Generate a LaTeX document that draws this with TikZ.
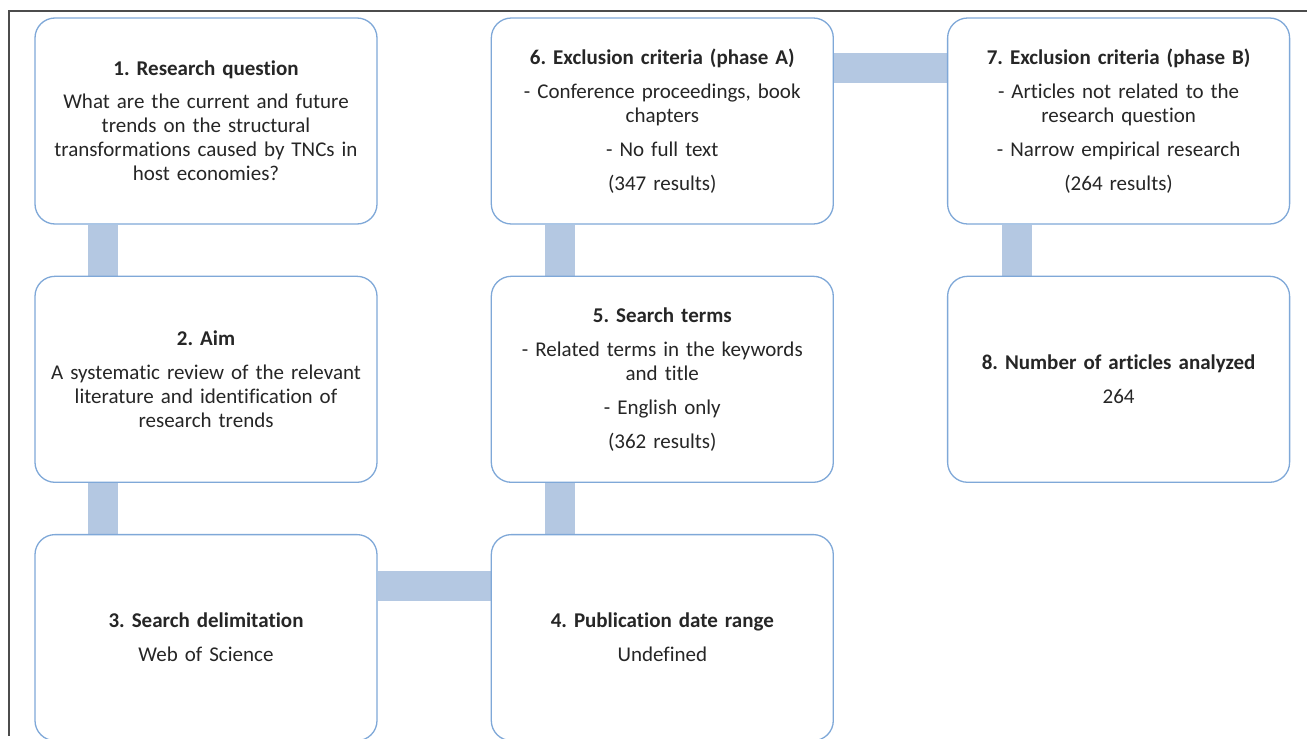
\documentclass[tikz,border=0pt]{standalone}
\usepackage{fontspec}
\setmainfont[Ligatures=NoCommon]{Carlito}
\frenchspacing
\usetikzlibrary{positioning,backgrounds}

\definecolor{boxline}{HTML}{7FA8D8}
\definecolor{barfill}{HTML}{B4C8E2}
\definecolor{ink}{HTML}{262626}

\tikzset{
    stage/.style={draw=boxline, line width=1.3pt, rounded corners=20pt, fill=white,
        minimum width=342pt, minimum height=206pt, text width=336pt, align=center,
        inner sep=0pt, text=ink, font=\fontsize{21}{24}\selectfont},
    link/.style={barfill, line width=30pt},
    frame/.style={black!70, line width=1.3pt}
}

\begin{document}
\begin{tikzpicture}[x=1pt, y=1pt]
    \useasboundingbox (0,0) rectangle (1307,-739);
    \draw[frame] (1307,-11) -- (9,-11) -- (9,-736);

    \node[stage] (rq) at (206,-121) {\textbf{1. Research question}\\[9pt]
        What are the current and future\\ trends on the structural\\
        transformations caused by TNCs in\\ host economies?};
    \node[stage, below=51pt of rq] (aim) {\textbf{2. Aim}\\[10pt]
        A systematic review of the relevant\\ literature and identification of\\ research trends};
    \node[stage, below=51pt of aim] (delim) {\textbf{3. Search delimitation}\\[10pt] Web of Science};
    \node[stage, right=113pt of delim] (dates) {\textbf{4. Publication date range}\\[10pt] Undefined};
    \node[stage, above=51pt of dates] (terms) {\textbf{5. Search terms}\\[10pt]
        - Related terms in the keywords\\ and title\\[10pt] - English only\\[10pt] (362 results)};
    \node[stage, above=51pt of terms] (exA) {\textbf{6. Exclusion criteria (phase A)}\\[10pt]
        - Conference proceedings, book\\ chapters\\[10pt] - No full text\\[10pt] (347 results)};
    \node[stage, right=113pt of exA] (exB) {\textbf{7. Exclusion criteria (phase B)}\\[10pt]
        - Articles not related to the\\ research question\\[10pt] - Narrow empirical research\\[10pt] (264 results)};
    \node[stage, below=51pt of exB] (count) {\textbf{8. Number of articles analyzed}\\[10pt] 264};

    \begin{scope}[on background layer]
        \draw[link] ([xshift=-103pt]rq.south) -- ([xshift=-103pt]aim.north);
        \draw[link] ([xshift=-103pt]aim.south) -- ([xshift=-103pt]delim.north);
        \draw[link] ([yshift=52pt]delim.east) -- ([yshift=52pt]dates.west);
        \draw[link] ([xshift=-102pt]dates.north) -- ([xshift=-102pt]terms.south);
        \draw[link] ([xshift=-102pt]terms.north) -- ([xshift=-102pt]exA.south);
        \draw[link] ([yshift=53pt]exA.east) -- ([yshift=53pt]exB.west);
        \draw[link] ([xshift=-102pt]exB.south) -- ([xshift=-102pt]count.north);
    \end{scope}
\end{tikzpicture}
\end{document}
